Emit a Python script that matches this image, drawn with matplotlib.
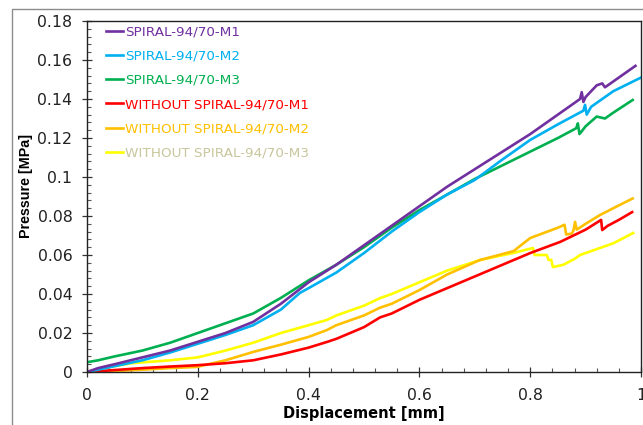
import matplotlib
matplotlib.use("Agg")
import matplotlib.pyplot as plt
from matplotlib.patches import Rectangle
from matplotlib.ticker import MultipleLocator, FixedLocator

plt.rcParams['font.family'] = ['DejaVu Sans']

labels = ["SPIRAL-94/70-M1", "SPIRAL-94/70-M2", "SPIRAL-94/70-M3",
          "WITHOUT SPIRAL-94/70-M1", "WITHOUT SPIRAL-94/70-M2", "WITHOUT SPIRAL-94/70-M3"]
line_colors = ["#7030A0", "#00B0F0", "#00B050", "#FF0000", "#FFC000", "#FFFF00"]
text_colors = ["#7030A0", "#00B0F0", "#00B050", "#FF0000", "#FFC000", "#C8C69C"]

# Displacement [mm] / Pressure [MPa] for each specimen
x_s1 = [0.0, 0.02, 0.05, 0.1, 0.15, 0.2, 0.25, 0.3, 0.35, 0.4, 0.45, 0.5, 0.55, 0.6,
        0.65, 0.7, 0.75, 0.8, 0.85, 0.89, 0.893, 0.896, 0.9, 0.92, 0.93, 0.935, 0.94, 0.96, 0.99]
y_s1 = [0.0, 0.002, 0.004, 0.0075, 0.011, 0.0155, 0.020, 0.0257, 0.035, 0.046, 0.055, 0.065,
        0.075, 0.085, 0.095, 0.104, 0.113, 0.122, 0.132, 0.140, 0.1435, 0.1385, 0.141, 0.147,
        0.148, 0.146, 0.147, 0.151, 0.157]

x_s2 = [0.0, 0.05, 0.1, 0.15, 0.2, 0.25, 0.3, 0.35, 0.384, 0.4, 0.45, 0.5, 0.55, 0.6,
        0.65, 0.7, 0.75, 0.8, 0.85, 0.896, 0.899, 0.902, 0.91, 0.95, 1.0]
y_s2 = [0.0, 0.003, 0.006, 0.010, 0.0145, 0.019, 0.024, 0.032, 0.0405, 0.043, 0.051, 0.061,
        0.072, 0.082, 0.091, 0.0985, 0.109, 0.119, 0.127, 0.134, 0.137, 0.132, 0.136, 0.144, 0.151]

x_s3 = [0.0, 0.02, 0.05, 0.1, 0.15, 0.2, 0.25, 0.3, 0.35, 0.4, 0.45, 0.5, 0.55, 0.6, 0.65,
        0.7, 0.75, 0.8, 0.85, 0.883, 0.886, 0.889, 0.9, 0.92, 0.935, 0.95, 0.985]
y_s3 = [0.005, 0.006, 0.008, 0.011, 0.015, 0.020, 0.025, 0.030, 0.038, 0.047, 0.055, 0.064,
        0.074, 0.083, 0.091, 0.099, 0.106, 0.113, 0.120, 0.125, 0.1275, 0.122, 0.126, 0.131,
        0.130, 0.133, 0.1395]

x_w1 = [0.0, 0.05, 0.1, 0.15, 0.2, 0.25, 0.3, 0.35, 0.4, 0.433, 0.45, 0.5, 0.529, 0.55, 0.6,
        0.65, 0.7, 0.75, 0.8, 0.854, 0.9, 0.928, 0.930, 0.94, 0.96, 0.984]
y_w1 = [0.0, 0.001, 0.002, 0.0028, 0.0035, 0.0045, 0.006, 0.009, 0.0125, 0.0154, 0.017, 0.023,
        0.028, 0.030, 0.037, 0.043, 0.049, 0.055, 0.061, 0.0667, 0.073, 0.078, 0.0728, 0.075,
        0.078, 0.082]

x_w2 = [0.0, 0.05, 0.1, 0.15, 0.198, 0.25, 0.3, 0.35, 0.4, 0.433, 0.45, 0.5, 0.529, 0.55, 0.6,
        0.65, 0.709, 0.77, 0.8, 0.85, 0.862, 0.865, 0.875, 0.878, 0.881, 0.884, 0.9, 0.926,
        0.95, 0.985]
y_w2 = [0.0, 0.0005, 0.0012, 0.002, 0.0026, 0.006, 0.0103, 0.014, 0.018, 0.0215, 0.024, 0.029,
        0.033, 0.035, 0.042, 0.050, 0.0574, 0.062, 0.0687, 0.074, 0.0755, 0.0705, 0.071, 0.0725,
        0.077, 0.073, 0.076, 0.0805, 0.084, 0.089]

x_w3 = [0.0, 0.02, 0.05, 0.08, 0.15, 0.2, 0.25, 0.3, 0.35, 0.4, 0.433, 0.45, 0.5, 0.529, 0.55,
        0.6, 0.65, 0.709, 0.769, 0.805, 0.808, 0.83, 0.833, 0.838, 0.841, 0.86, 0.88, 0.89,
        0.92, 0.95, 0.986]
y_w3 = [0.0, 0.0015, 0.003, 0.0045, 0.006, 0.0075, 0.011, 0.015, 0.020, 0.024, 0.0267, 0.029,
        0.034, 0.0379, 0.040, 0.046, 0.052, 0.0574, 0.061, 0.0636, 0.060, 0.060, 0.0575, 0.0575,
        0.0538, 0.055, 0.058, 0.060, 0.063, 0.066, 0.0713]

series = [(x_s1, y_s1), (x_s2, y_s2), (x_s3, y_s3), (x_w1, y_w1), (x_w2, y_w2), (x_w3, y_w3)]

x_ticks = [0, 0.2, 0.4, 0.6, 0.8, 1]
x_ticklabels = ["0", "0.2", "0.4", "0.6", "0.8", "1"]
y_ticks = [0, 0.02, 0.04, 0.06, 0.08, 0.1, 0.12, 0.14, 0.16, 0.18]
y_ticklabels = ["0", "0.02", "0.04", "0.06", "0.08", "0.1", "0.12", "0.14", "0.16", "0.18"]

fig = plt.figure(figsize=(6.43, 4.25), dpi=100)
ax = fig.add_axes([87 / 643, 53 / 425, 554 / 643, 351 / 425])

# thin grey outline framing the chart area
fig.patches.append(Rectangle((12 / 643, -0.1), 1.2, (425 - 9) / 425 + 0.1,
                             transform=fig.transFigure, fill=False,
                             edgecolor="#8c8c8c", linewidth=1.0, zorder=0))

# draw later series first so the spiral curves sit on top
for (xs, ys), c, lab in list(zip(series, line_colors, labels))[::-1]:
    ax.plot(xs, ys, color=c, linewidth=1.9, label=lab, solid_joinstyle="round")

ax.set_xlim(0, 1)
ax.set_ylim(0, 0.18)
ax.xaxis.set_major_locator(FixedLocator(x_ticks))
ax.set_xticklabels(x_ticklabels)
ax.yaxis.set_major_locator(FixedLocator(y_ticks))
ax.set_yticklabels(y_ticklabels)
ax.xaxis.set_minor_locator(MultipleLocator(0.04))
ax.yaxis.set_minor_locator(MultipleLocator(0.004))

ax.tick_params(which="major", direction="inout", length=7, width=0.9, colors="#333333",
               labelcolor="#222222", labelsize=11.3)
ax.tick_params(axis="x", which="major", pad=8)
ax.tick_params(axis="y", which="major", pad=7)
ax.tick_params(which="minor", direction="in", length=3, width=0.8, colors="#555555")
for s in ax.spines.values():
    s.set_color("#222222")
    s.set_linewidth(1.0)

ax.set_xlabel("Displacement [mm]", fontsize=10.5, fontweight="bold", labelpad=2)
ax.set_ylabel("Pressure [MPa]", fontsize=10.3, fontweight="bold",
              family="Liberation Sans")
ax.yaxis.set_label_coords(-0.0975, 0.53)

handles, hl = ax.get_legend_handles_labels()
handles, hl = handles[::-1], hl[::-1]
leg = ax.legend(handles, hl, loc="upper left", bbox_to_anchor=(0.034, 0.987),
                frameon=False, fontsize=9.7, handlelength=1.3, handletextpad=0.1,
                labelspacing=0.83, borderpad=0, borderaxespad=0)
for t, c in zip(leg.get_texts(), text_colors):
    t.set_color(c)

fig.savefig("out.png", dpi=100)
